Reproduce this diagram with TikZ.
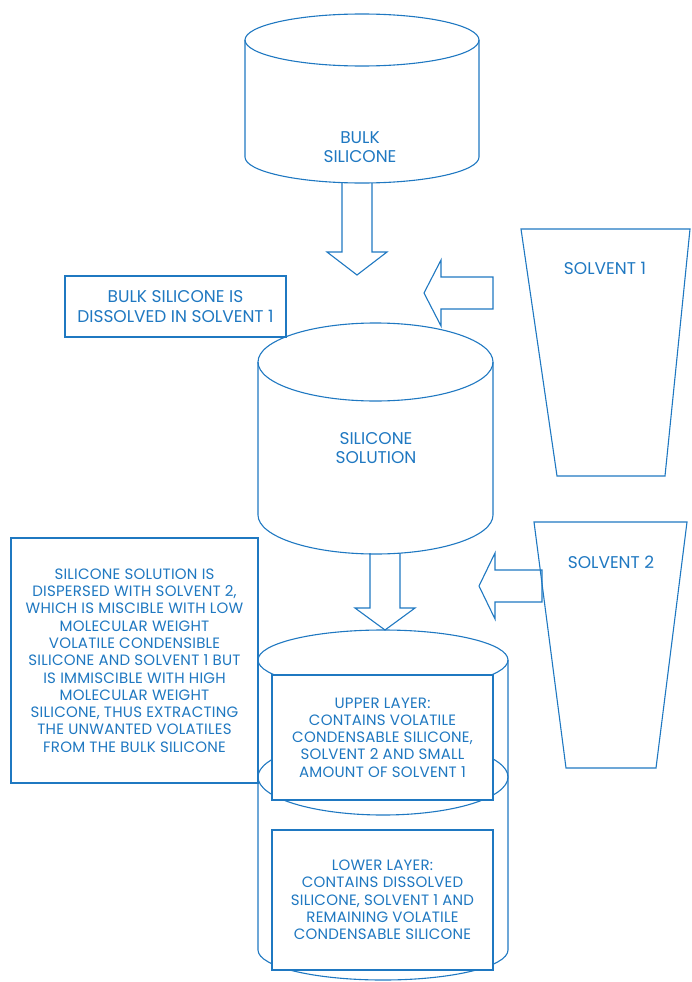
\documentclass[tikz,border=0pt]{standalone}
\usepackage{fontspec}
\setmainfont{Poppins}
\newfontfamily\trackedfont{Poppins}[LetterSpace=1.5]
\definecolor{siliblue}{HTML}{1F78C1}

\begin{document}
\begin{tikzpicture}[
    x=1pt,
    y=-1pt,
    color=siliblue,
    line width=1.1pt,
    line join=miter,
    every node/.style={align=center},
    bigtext/.style={font=\fontsize{17}{19.5}\selectfont},
    smalltext/.style={font=\trackedfont\fontsize{15}{17.3}\selectfont},
    textbox/.style={draw=siliblue, fill=white, inner sep=0pt}
  ]
  \useasboundingbox (0,0) rectangle (691,982);

  % cylinders
  \foreach \cx/\rx/\ytop/\ybot/\ry in {
    362/117/40/157/26,
    375.5/117.5/362/515/39,
    383/125/660/950/30
  }{
    \draw (\cx,\ytop) ellipse [x radius=\rx, y radius=\ry];
    \draw ({\cx-\rx},\ytop) -- ({\cx-\rx},\ybot)
      arc [start angle=180, end angle=0, x radius=\rx, y radius=\ry]
      -- ({\cx+\rx},\ytop);
  }
  % interface between the two layers
  \draw (383,777) ellipse [x radius=125, y radius=38];

  % downward block arrows
  \foreach \x/\ytop/\ybase/\ytip in {357/183/252/275, 385/553/608/630}{
    \draw ({\x-15},\ytop) -- ({\x-15},\ybase) -- ({\x-30},\ybase)
      -- (\x,\ytip) -- ({\x+30},\ybase) -- ({\x+15},\ybase) -- ({\x+15},\ytop);
  }
  % leftward block arrows
  \foreach \xtip/\xbase/\xend/\y in {424/441/493/293, 479/495/542/586}{
    \draw (\xtip,\y) -- (\xbase,{\y-33}) -- (\xbase,{\y-16}) -- (\xend,{\y-16})
      -- (\xend,{\y+16}) -- (\xbase,{\y+16}) -- (\xbase,{\y+33}) -- cycle;
  }

  % solvent containers
  \draw (521,229) -- (690,229) -- (665,476) -- (557,476) -- cycle;
  \draw (534,522) -- (687,522) -- (656,768) -- (566,768) -- cycle;

  % labels
  \node[bigtext] (bulk) at (360,147) {BULK\\SILICONE};
  \node[bigtext] (solution) at (376,448) {SILICONE\\SOLUTION};
  \node[bigtext] (solventA) at (605,268) {SOLVENT 1};
  \node[bigtext] (solventB) at (611,562) {SOLVENT 2};

  \node[bigtext, textbox, minimum width=221, minimum height=61]
    (dissolve) at (175.5,306.5)
    {BULK SILICONE IS\\DISSOLVED IN SOLVENT 1};
  \node[smalltext, textbox, minimum width=247, minimum height=245]
    (disperse) at (134.5,660.5)
    {SILICONE SOLUTION IS\\DISPERSED WITH SOLVENT 2,\\WHICH IS MISCIBLE WITH LOW\\
     MOLECULAR WEIGHT\\VOLATILE CONDENSIBLE\\SILICONE AND SOLVENT 1 BUT\\
     IS IMMISCIBLE WITH HIGH\\MOLECULAR WEIGHT\\SILICONE, THUS EXTRACTING\\
     THE UNWANTED VOLATILES\\FROM THE BULK SILICONE};
  \node[smalltext, textbox, minimum width=221, minimum height=125]
    (upper) at (382.5,737.5)
    {UPPER LAYER:\\CONTAINS VOLATILE\\CONDENSABLE SILICONE,\\
     SOLVENT 2 AND SMALL\\AMOUNT OF SOLVENT 1};
  \node[smalltext, textbox, minimum width=221, minimum height=140]
    (lower) at (382.5,900)
    {LOWER LAYER:\\CONTAINS DISSOLVED\\SILICONE, SOLVENT 1 AND\\
     REMAINING VOLATILE\\CONDENSABLE SILICONE};
\end{tikzpicture}
\end{document}
